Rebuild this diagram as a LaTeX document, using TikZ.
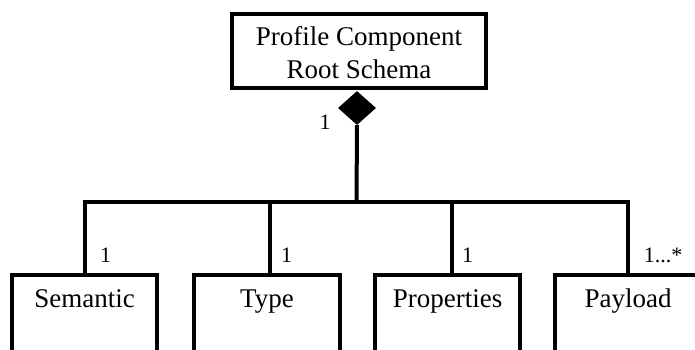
\documentclass[tikz,border=0pt]{standalone}
\usepackage{fontspec}
\setmainfont{Liberation Serif}
\usetikzlibrary{shapes.geometric,calc}

\begin{document}
\begin{tikzpicture}[x=1pt,y=-1pt,
  umlbox/.style={draw, line width=4pt, inner sep=0pt},
  boxtext/.style={anchor=base, inner sep=0pt, font=\fontsize{27}{33}\selectfont},
  mult/.style={anchor=base, inner sep=0pt, font=\fontsize{22}{26}\selectfont},
  conn/.style={line width=4pt, line join=miter},
  aggregation/.style={diamond, fill=black, inner sep=0pt, minimum width=38, minimum height=34}]
\useasboundingbox (0,0) rectangle (695,349);
\clip (0,0) rectangle (695,349);

% root class
\node[umlbox, minimum width=254, minimum height=74] (root) at (359,51) {};
\node[boxtext, align=center] (roottxt) at (359,78) {Profile Component\\Root Schema};

% composition diamond under the root
\node[aggregation] (agg) at (357,108) {};

% child classes (their lower part runs off the page)
\node[umlbox, minimum width=145, minimum height=140, anchor=north] (sem) at (84.5,272.5) {};
\node[umlbox, minimum width=146, minimum height=140, anchor=north] (typ) at (267,272.5) {};
\node[umlbox, minimum width=145, minimum height=140, anchor=north] (prop) at (447.5,272.5) {};
\node[umlbox, minimum width=146, minimum height=140, anchor=north] (pay) at (628,272.5) {};

\node[boxtext] (semtxt) at (84.5,307) {Semantic};
\node[boxtext] (typtxt) at (267,307) {Type};
\node[boxtext] (proptxt) at (447.5,307) {Properties};
\node[boxtext] (paytxt) at (628,307) {Payload};

% connector tree
\coordinate (bus) at (356.5,202);
\coordinate (semd) at ($(sem.north)+(0.5,0)$);
\coordinate (typd) at ($(typ.north)+(3,0)$);
\coordinate (propd) at ($(prop.north)+(4.5,0)$);
\coordinate (payd) at (pay.north);

\draw[conn] (agg.south) -- (bus);
\draw[conn] (semd) |- (bus -| payd) -- (payd);
\draw[conn] (typd) -- (typd |- bus);
\draw[conn] (propd) -- (propd |- bus);

% multiplicities
\node[mult] (m0) at (325,129) {1};
\node[mult] (m1) at (105.5,262) {1};
\node[mult] (m2) at (286.7,262) {1};
\node[mult] (m3) at (467.5,262) {1};
\node[mult] (m4) at (663,262) {1...*};
\end{tikzpicture}
\end{document}
